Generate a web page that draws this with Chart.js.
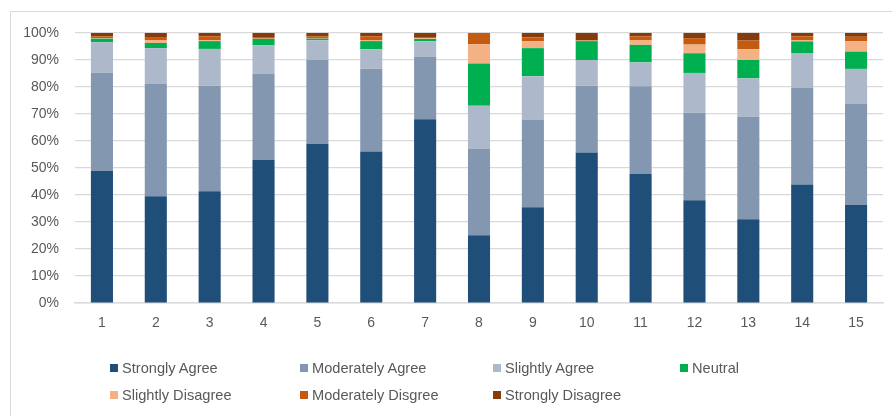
<!DOCTYPE html>
<html>
<head>
<meta charset="utf-8">
<script src="https://cdn.jsdelivr.net/npm/chart.js@4"></script>
<style>
  html, body { margin: 0; padding: 0; background: #ffffff; }
  #wrap { position: relative; width: 892px; height: 416px; overflow: hidden; }
  canvas { position: absolute; left: 0; top: 0; }
  #legend { position: absolute; left: 0; top: 0; width: 892px; height: 416px; pointer-events: none;
            font-family: "Liberation Sans", Arial, sans-serif; font-size: 14.6px; color: #595959; }
  .item { position: absolute; display: flex; align-items: center; white-space: nowrap; }
  .box { width: 8px; height: 8px; margin-right: 4px; }
</style>
</head>
<body>
<div id="wrap">
  <canvas id="chart" width="892" height="416"></canvas>
  <div id="legend"></div>
</div>
<script>
// Survey questions 1-15, share of responses per answer (percent)
const categories = ['1', '2', '3', '4', '5', '6', '7', '8', '9', '10', '11', '12', '13', '14', '15'];

const stronglyAgree      = [48.9, 39.5, 41.4, 53.0, 59.0, 56.1, 68.1, 25.1, 35.5, 55.7, 47.8, 38.1, 31.0, 43.9, 36.4];
const moderatelyAgree    = [36.3, 41.6, 39.0, 31.8, 31.0, 30.6, 23.2, 31.9, 32.5, 24.7, 32.5, 32.5, 38.1, 35.7, 37.3];
const slightlyAgree      = [11.4, 13.3, 13.7, 10.6, 7.3, 7.3, 5.7, 16.1, 16.0, 9.6, 8.8, 14.6, 14.1, 13.0, 13.0];
const neutral            = [1.3, 1.9, 2.9, 2.4, 0.6, 3.0, 0.8, 15.6, 10.4, 7.0, 6.5, 7.3, 6.8, 4.3, 6.4];
const slightlyDisagree   = [0.2, 1.1, 0.3, 0.1, 0.1, 0.4, 0.3, 7.1, 2.6, 0.2, 1.8, 3.2, 4.0, 0.5, 3.8];
const moderatelyDisagree = [0.7, 1.1, 1.5, 0.6, 0.8, 1.4, 0.4, 4.2, 1.4, 0.0, 1.4, 2.4, 3.2, 1.4, 1.7];
const stronglyDisagree   = [1.2, 1.5, 1.2, 1.5, 1.2, 1.2, 1.5, 0.0, 1.6, 2.8, 1.2, 1.9, 2.8, 1.2, 1.4];

const yTicks = [0, 10, 20, 30, 40, 50, 60, 70, 80, 90, 100];

const series = [
  { label: 'Strongly Agree',      data: stronglyAgree,      color: '#1f4e79' },
  { label: 'Moderately Agree',    data: moderatelyAgree,    color: '#8497b0' },
  { label: 'Slightly Agree',      data: slightlyAgree,      color: '#adb9ca' },
  { label: 'Neutral',             data: neutral,            color: '#00b050' },
  { label: 'Slightly Disagree',   data: slightlyDisagree,   color: '#f4b183' },
  { label: 'Moderately Disgree',  data: moderatelyDisagree, color: '#c55a11' },
  { label: 'Strongly Disagree',   data: stronglyDisagree,   color: '#843c0c' }
];

const FONT = '"Liberation Sans", Arial, sans-serif';
const TEXT = '#595959';
const GRID = '#d9d9d9';

// white page with a thin frame around the chart
const framePlugin = {
  id: 'frame',
  beforeDraw(chart) {
    const ctx = chart.ctx;
    ctx.save();
    ctx.fillStyle = '#ffffff';
    ctx.fillRect(0, 0, chart.width, chart.height);
    ctx.strokeStyle = GRID;
    ctx.lineWidth = 1;
    ctx.strokeRect(10.5, 11.5, chart.width + 20, chart.height + 20);
    ctx.restore();
  }
};

new Chart(document.getElementById('chart'), {
  type: 'bar',
  data: {
    labels: categories,
    datasets: series.map(s => ({
      label: s.label,
      data: s.data,
      backgroundColor: s.color,
      borderWidth: 0,
      barPercentage: 0.41,
      categoryPercentage: 1.0
    }))
  },
  options: {
    responsive: false,
    animation: false,
    events: [],
    layout: { padding: { left: 0, right: 9, top: 33, bottom: 0 } },
    plugins: {
      legend: { display: false },
      tooltip: { enabled: false }
    },
    scales: {
      x: {
        stacked: true,
        grid: { display: false, drawTicks: false },
        border: { display: true, color: GRID, width: 1.5 },
        ticks: { color: TEXT, font: { family: FONT, size: 14 }, padding: 12 },
        afterFit(scale) { scale.height = 113; }
      },
      y: {
        stacked: true,
        min: 0,
        max: 100,
        afterBuildTicks(scale) { scale.ticks = yTicks.map(v => ({ value: v })); },
        grid: { color: GRID, lineWidth: 1.2, drawTicks: false },
        border: { display: false },
        ticks: {
          color: TEXT,
          font: { family: FONT, size: 14 },
          padding: 16,
          callback: v => v + '%'
        },
        afterFit(scale) { scale.width = 75; }
      }
    }
  },
  plugins: [framePlugin]
});

// legend in a two-row grid under the plot
const legend = document.getElementById('legend');
const colX = [110, 300, 493, 680];
const rowY = [368, 395];
series.forEach((s, i) => {
  const item = document.createElement('div');
  item.className = 'item';
  item.style.left = colX[i % 4] + 'px';
  item.style.top = (rowY[Math.floor(i / 4)] - 9) + 'px';
  item.style.height = '18px';
  const box = document.createElement('span');
  box.className = 'box';
  box.style.background = s.color;
  const txt = document.createElement('span');
  txt.textContent = s.label;
  item.appendChild(box);
  item.appendChild(txt);
  legend.appendChild(item);
});
</script>
</body>
</html>
